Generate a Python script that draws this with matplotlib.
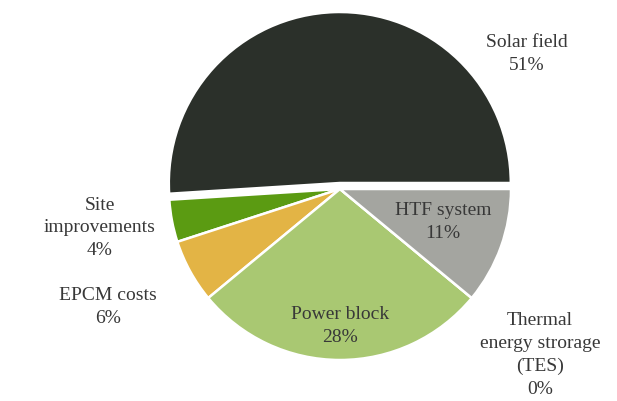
import matplotlib.pyplot as plt

# Datos del gráfico (porcentaje de costos)
categorias = ["Solar field", "Site\nimprovements", "EPCM costs", "Power block",
              "Thermal\nenergy strorage\n(TES)", "HTF system"]
valores = [51, 4, 6, 28, 0, 11]
colores = ["#2b302a", "#5b9b12", "#e3b445", "#a9c872", "#9fa09b", "#a4a5a0"]

# Posiciones de las etiquetas (en pixeles de la figura)
pos_etiquetas = [(527, 54), (100, 228), (108, 307), (340, 326), (540, 355), (443, 222)]

fig = plt.figure(figsize=(6.17, 4.02), dpi=100)
ax = fig.add_axes([0, 0, 1, 1])

# Se dibuja la torta, con la porcion "Solar field" separada un poco hacia arriba
ax.pie(valores, colors=colores, startangle=0, counterclock=True,
       center=(340, 212), radius=171, explode=[6, 0, 0, 0, 0, 0],
       wedgeprops={"edgecolor": "white", "linewidth": 1.8}, frame=True)
ax.set_xlim(0, 617)
ax.set_ylim(0, 402)
ax.set_aspect("equal")
ax.axis("off")

# Se agregan los textos con nombre y porcentaje
for nombre, valor, (px, py) in zip(categorias, valores, pos_etiquetas):
    ax.text(px, 402 - py, f"{nombre}\n{valor}%", ha="center", va="center",
            fontsize=14, family="Liberation Serif", color="#383838",
            linespacing=1.45)

plt.savefig("out.png", dpi=100)
